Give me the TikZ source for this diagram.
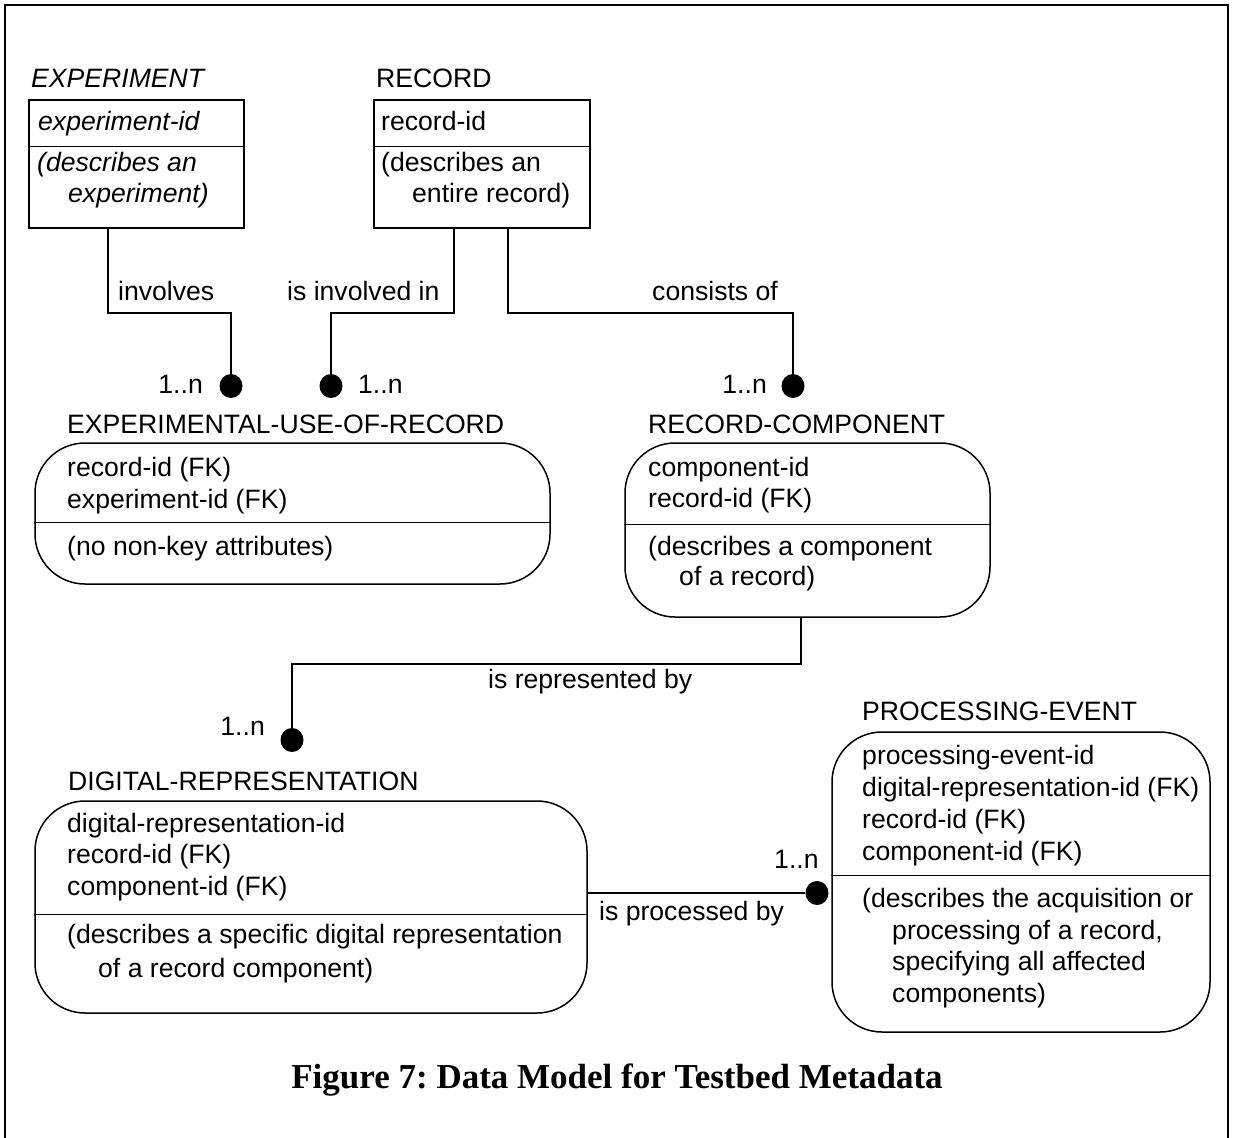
\documentclass[tikz,border=0pt]{standalone}
\usepackage{fontspec}
\setmainfont{Liberation Sans}
\newfontfamily\capfont{Liberation Serif}
\usetikzlibrary{shapes.geometric}
\begin{document}
\begin{tikzpicture}[x=1pt,y=-1pt,
  txt/.style={anchor=base west, inner sep=0pt, font=\fontsize{26.6}{31.5}\selectfont},
  itxt/.style={anchor=base west, inner sep=0pt, font=\fontsize{26.6}{31.5}\selectfont\itshape},
  etxt/.style={anchor=base east, inner sep=0pt, font=\fontsize{26.6}{31.5}\selectfont},
  sqbox/.style={draw, line width=1.5pt, rectangle, inner sep=0pt},
  rbox/.style={draw, line width=1.5pt, rectangle, rounded corners=50pt, inner sep=0pt},
  conn/.style={line width=1.5pt},
  dot/.style={ellipse, fill=black, inner sep=0pt, minimum width=23pt, minimum height=24pt},
]
\useasboundingbox (0,0) rectangle (1233,1137);
\draw[line width=2pt] (5,1140) -- (5,5) -- (1228,5) -- (1228,1140);

% EXPERIMENT
\node[itxt] (expt) at (31,88) {EXPERIMENT};
\node[sqbox, minimum width=215pt, minimum height=128pt] (exp) at (136.5,164) {};
\draw[conn] ([yshift=-47pt]exp.north west) -- ([yshift=-47pt]exp.north east);
\node[itxt] (expk) at (38,130) {experiment-id};
\node[itxt] (expd1) at (37,171) {(describes an};
\node[itxt] (expd2) at (68,202) {experiment)};

% RECORD
\node[txt] (rect) at (376,88) {RECORD};
\node[sqbox, minimum width=216pt, minimum height=128pt] (rec) at (482,164) {};
\draw[conn] ([yshift=-47pt]rec.north west) -- ([yshift=-47pt]rec.north east);
\node[txt] (reck) at (381,130) {record-id};
\node[txt] (recd1) at (381,171) {(describes an};
\node[txt] (recd2) at (412,202) {entire record)};

% EXPERIMENTAL-USE-OF-RECORD
\node[txt] (eurt) at (67,433) {EXPERIMENTAL-USE-OF-RECORD};
\node[rbox, minimum width=515pt, minimum height=141pt] (eur) at (292.5,513.5) {};
\draw[conn] ([yshift=-80pt]eur.north west) -- ([yshift=-80pt]eur.north east);
\node[txt] (eurk1) at (67,476) {record-id (FK)};
\node[txt] (eurk2) at (67,508) {experiment-id (FK)};
\node[txt] (eurd) at (67,555) {(no non-key attributes)};

% RECORD-COMPONENT
\node[txt] (rct) at (648,433) {RECORD-COMPONENT};
\node[rbox, minimum width=365pt, minimum height=174pt] (rc) at (807.5,530) {};
\draw[conn] ([yshift=-82pt]rc.north west) -- ([yshift=-82pt]rc.north east);
\node[txt] (rck1) at (648,476) {component-id};
\node[txt] (rck2) at (648,507) {record-id (FK)};
\node[txt] (rcd1) at (648,555) {(describes a component};
\node[txt] (rcd2) at (679,585) {of a record)};

% DIGITAL-REPRESENTATION
\node[txt] (drt) at (68,790) {DIGITAL-REPRESENTATION};
\node[rbox, minimum width=552pt, minimum height=212pt] (dr) at (311,907) {};
\draw[conn] ([yshift=-114pt]dr.north west) -- ([yshift=-114pt]dr.north east);
\node[txt] (drk1) at (67,832) {digital-representation-id};
\node[txt] (drk2) at (67,863) {record-id (FK)};
\node[txt] (drk3) at (67,895) {component-id (FK)};
\node[txt] (drd1) at (67,943) {(describes a specific digital representation};
\node[txt] (drd2) at (98,977) {of a record component)};

% PROCESSING-EVENT
\node[txt] (pet) at (862,720) {PROCESSING-EVENT};
\node[rbox, minimum width=378pt, minimum height=300pt] (pe) at (1021,882) {};
\draw[conn] ([yshift=-144pt]pe.north west) -- ([yshift=-144pt]pe.north east);
\node[txt] (pek1) at (862,764) {processing-event-id};
\node[txt] (pek2) at (862,796) {digital-representation-id (FK)};
\node[txt] (pek3) at (862,828) {record-id (FK)};
\node[txt] (pek4) at (862,860) {component-id (FK)};
\node[txt] (ped1) at (862,907) {(describes the acquisition or};
\node[txt] (ped2) at (892,939) {processing of a record,};
\node[txt] (ped3) at (892,970) {specifying all affected};
\node[txt] (ped4) at (892,1002) {components)};

% dots
\node[dot] (d1) at (231,386) {};
\node[dot] (d2) at (331,386) {};
\node[dot] (d3) at (793,386) {};
\node[dot] (d4) at (292,740) {};
\node[dot] (d5) at (817,893) {};

% connectors
\draw[conn] ([xshift=-28.5pt]exp.south) -- ++(0,84) -| (d1);
\draw[conn] ([xshift=-28pt]rec.south) -- ++(0,84) -| (d2);
\draw[conn] ([xshift=26pt]rec.south) -- ++(0,84) -| (d3);
\draw[conn] ([xshift=-6.5pt]rc.south) -- ++(0,46) -| (d4);
\draw[conn] (dr.east |- d5) -- (d5);

% labels
\node[txt] (l1) at (118,300) {involves};
\node[txt] (l2) at (287,300) {is involved in};
\node[txt] (l3) at (652,300) {consists of};
\node[txt] (l4) at (488,688) {is represented by};
\node[txt] (l5) at (599,920) {is processed by};
\node[etxt] (m1) at (203,393) {1..n};
\node[txt] (m2) at (358,393) {1..n};
\node[etxt] (m3) at (767,393) {1..n};
\node[etxt] (m4) at (265,735) {1..n};
\node[txt] (m5) at (774,868) {1..n};

% caption
\node[anchor=base, inner sep=0pt, font=\capfont\bfseries\fontsize{35}{40}\selectfont\frenchspacing] (cap) at (617,1088) {Figure 7: Data Model for Testbed Metadata};
\end{tikzpicture}
\end{document}
